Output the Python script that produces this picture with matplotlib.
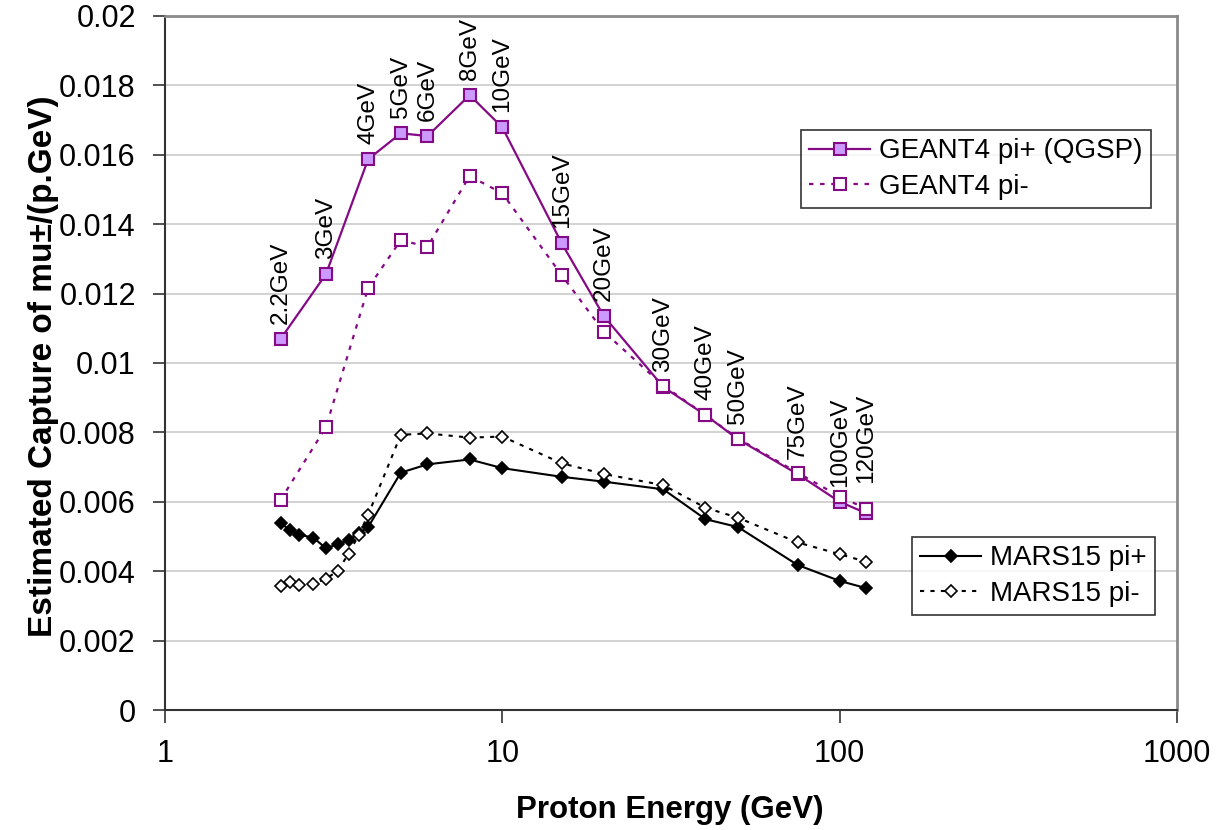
import matplotlib
matplotlib.use("Agg")
import matplotlib.pyplot as plt
from matplotlib.ticker import FixedLocator, FuncFormatter, NullLocator

plt.rcParams['font.family'] = ['Liberation Sans', 'DejaVu Sans']

# Proton beam energies (GeV)
geant_energy = [2.2, 3, 4, 5, 6, 8, 10, 15, 20, 30, 40, 50, 75, 100, 120]
mars_energy = [2.2, 2.35, 2.5, 2.75, 3, 3.25, 3.5, 3.75, 4, 5, 6, 8, 10,
               15, 20, 30, 40, 50, 75, 100, 120]

# Captured mu+/- per proton per GeV
geant_pip = [0.01069, 0.01256, 0.01587, 0.01662, 0.01654, 0.01772, 0.01679,
             0.01345, 0.01135, 0.00931, 0.00850, 0.00780, 0.00680, 0.00600,
             0.00567]
geant_pim = [0.00605, 0.00815, 0.01216, 0.01354, 0.01335, 0.01539, 0.01489,
             0.01253, 0.01090, 0.00935, 0.00850, 0.00782, 0.00684, 0.00615,
             0.00580]
mars_pip = [0.00538, 0.00519, 0.00505, 0.00497, 0.00466, 0.00478, 0.00489,
            0.00509, 0.00527, 0.00684, 0.00708, 0.00722, 0.00697, 0.00672,
            0.00658, 0.00636, 0.00550, 0.00527, 0.00418, 0.00372, 0.00351]
mars_pim = [0.00357, 0.00370, 0.00360, 0.00364, 0.00378, 0.00401, 0.00450,
            0.00504, 0.00562, 0.00793, 0.00797, 0.00785, 0.00788, 0.00711,
            0.00680, 0.00648, 0.00583, 0.00554, 0.00483, 0.00449, 0.00427]

point_labels = ["2.2GeV", "3GeV", "4GeV", "5GeV", "6GeV", "8GeV", "10GeV",
                "15GeV", "20GeV", "30GeV", "40GeV", "50GeV", "75GeV",
                "100GeV", "120GeV"]

series_names = ["GEANT4 pi+ (QGSP)", "GEANT4 pi-", "MARS15 pi+", "MARS15 pi-"]

x_ticks = [1, 10, 100, 1000]
y_ticks = [0, 0.002, 0.004, 0.006, 0.008, 0.01, 0.012, 0.014, 0.016, 0.018, 0.02]

PURPLE = "#850A85"
LILAC = "#CC99FF"

fig = plt.figure(figsize=(12.2, 8.3), dpi=100)
ax = fig.add_axes([165 / 1220, 1 - 710 / 830, 1012 / 1220, 694 / 830])

ax.set_xscale("log")
ax.set_xlim(1, 1000)
ax.set_ylim(0, 0.02)

# horizontal grid
for v in y_ticks[1:]:
    ax.axhline(v, color="#cfcfcf", lw=1.3, zorder=0)

dots = (0, (2, 3))
h1, = ax.plot(geant_energy, geant_pip, color=PURPLE, lw=1.6, marker="s",
              ms=8.3, mfc=LILAC, mec=PURPLE, mew=1.5, zorder=3)
h2, = ax.plot(geant_energy, geant_pim, color=PURPLE, lw=1.6, ls=dots,
              marker="s", ms=8.3, mfc="white", mec=PURPLE, mew=1.5, zorder=4)
h3, = ax.plot(mars_energy, mars_pip, color="black", lw=1.5, marker="D",
              ms=6.3, mfc="black", mec="black", mew=1.2, zorder=5)
h4, = ax.plot(mars_energy, mars_pim, color="black", lw=1.5, ls=dots,
              marker="D", ms=6.3, mfc="white", mec="black", mew=1.2, zorder=6)

# energy labels above the GEANT4 pi+ points
for e, v, txt in zip(geant_energy, geant_pip, point_labels):
    off = 22 if txt == "120GeV" else 11
    ax.annotate(txt, (e, v), xytext=(0, off), textcoords="offset points",
                rotation=90, ha="center", va="bottom", fontsize=17.5,
                clip_on=False, zorder=7)

# axes frame
for side in ("left", "bottom"):
    ax.spines[side].set_color("#333333")
    ax.spines[side].set_linewidth(1.5)
for side in ("top", "right"):
    ax.spines[side].set_color("#8a8a8a")
    ax.spines[side].set_linewidth(2.0)

ax.xaxis.set_major_locator(FixedLocator(x_ticks))
ax.xaxis.set_minor_locator(NullLocator())
ax.xaxis.set_major_formatter(FuncFormatter(lambda v, p: f"{v:g}"))
ax.yaxis.set_major_locator(FixedLocator(y_ticks))
ax.yaxis.set_major_formatter(FuncFormatter(lambda v, p: f"{round(v, 4):g}"))
ax.tick_params(axis="both", direction="out", length=9, width=1.2,
               color="#333333", labelsize=22)
ax.tick_params(axis="x", pad=12)
ax.tick_params(axis="y", pad=12)

fig.text(670 / 1220, 1 - 810 / 830, "Proton Energy (GeV)", ha="center",
         va="center", fontsize=22.5, fontweight="bold")
fig.text(44 / 1220, 1 - 366 / 830, "Estimated Capture of mu\u00b1/(p.GeV)",
         ha="center", va="center", rotation=90, fontsize=24,
         fontweight="bold")

leg_kw = dict(frameon=True, fancybox=False, shadow=False, fontsize=20,
              handlelength=2.2, handletextpad=0.3, labelspacing=0.35,
              borderpad=0.3, borderaxespad=0, loc="upper left")
leg1 = ax.legend([h1, h2], series_names[:2],
                 bbox_to_anchor=((801 - 165) / 1012, (710 - 130) / 694),
                 **leg_kw)
leg1.get_frame().set_edgecolor("black")
leg1.get_frame().set_linewidth(1.2)
ax.add_artist(leg1)
leg2 = ax.legend([h3, h4], series_names[2:],
                 bbox_to_anchor=((912 - 165) / 1012, (710 - 537) / 694),
                 **leg_kw)
leg2.get_frame().set_edgecolor("black")
leg2.get_frame().set_linewidth(1.2)

fig.savefig("out.png", dpi=100)
